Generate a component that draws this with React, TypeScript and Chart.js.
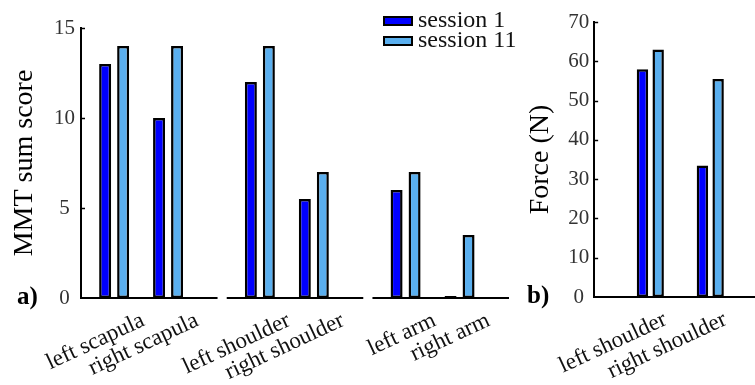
import React, { useEffect, useRef } from "react";
import { Chart, registerables } from "chart.js";

Chart.register(...registerables);

// ---------------- data ----------------
const SESSIONS = ["session 1", "session 11"];

const MMT_LABELS = ["left scapula", "right scapula", "left shoulder", "right shoulder", "left arm", "right arm"];
const MMT_GROUPS = [0, 0, 1, 1, 2, 2]; // scapula, shoulder, arm
const MMT_SESSION_1 = [13, 10, 12, 5.5, 6, 0];
const MMT_SESSION_11 = [14, 14, 14, 7, 7, 3.5];
const MMT_Y_TICKS = [0, 5, 10, 15];

const FORCE_LABELS = ["left shoulder", "right shoulder"];
const FORCE_SESSION_1 = [58, 33.5];
const FORCE_SESSION_11 = [63, 55.5];
const FORCE_Y_TICKS = [0, 10, 20, 30, 40, 50, 60, 70];

// ---------------- style / layout ----------------
const SERIF = "'Liberation Serif', 'Times New Roman', Times, serif";
const COLOR_S1 = "#0000FF";
const COLOR_S11 = "#5AAFEF";

const GROUP_STEP = 2.7; // distance between body-part groups (in category units)
const SEG_START = -0.614; // where each broken x-axis segment starts, relative to group
const SEG_LEN = 2.53; // length of each x-axis segment
const FORCE_PAD_LEFT = 0.937;
const FORCE_PAD_RIGHT = 0.746;

const nGroups = Math.max(...MMT_GROUPS) + 1;
const mmtPositions = MMT_LABELS.map(
  (_, i) => MMT_GROUPS[i] * GROUP_STEP + MMT_GROUPS.slice(0, i).filter((g) => g === MMT_GROUPS[i]).length
);
const forcePositions = FORCE_LABELS.map((_, i) => i);

const innerTicks = (values: number[]) => ({
  id: "innerTicks",
  afterDatasetsDraw(chart: any) {
    const { ctx, chartArea } = chart;
    const ys = chart.scales.y;
    ctx.save();
    ctx.strokeStyle = "#000";
    ctx.lineWidth = 1.5;
    values.forEach((v) => {
      if (v === 0) return;
      const py = Math.round(ys.getPixelForValue(v)) + 0.5;
      ctx.beginPath();
      ctx.moveTo(chartArea.left, py);
      ctx.lineTo(chartArea.left + 4, py);
      ctx.stroke();
    });
    ctx.restore();
  },
});

const panelLabel = (text: string, x: number) => ({
  id: "panelLabel",
  afterDraw(chart: any) {
    const { ctx } = chart;
    const y = chart.scales.y.getPixelForValue(0);
    ctx.save();
    ctx.font = `bold 25px ${SERIF}`;
    ctx.fillStyle = "#000";
    ctx.textAlign = "left";
    ctx.textBaseline = "middle";
    ctx.fillText(text, x, y);
    ctx.restore();
  },
});

const brokenAxis = {
  id: "brokenAxis",
  afterDatasetsDraw(chart: any) {
    const { ctx } = chart;
    const xs = chart.scales.x;
    const y0 = Math.round(chart.scales.y.getPixelForValue(0));
    ctx.save();
    ctx.strokeStyle = "#000";
    ctx.lineWidth = 2.2;
    for (let g = 0; g < nGroups; g++) {
      const a = xs.getPixelForValue(g * GROUP_STEP + SEG_START);
      const b = xs.getPixelForValue(g * GROUP_STEP + SEG_START + SEG_LEN);
      ctx.beginPath();
      ctx.moveTo(a, y0);
      ctx.lineTo(b, y0);
      ctx.stroke();
    }
    ctx.restore();
  },
};

const sessionLegend = {
  id: "sessionLegend",
  afterDraw(chart: any) {
    const { ctx } = chart;
    ctx.save();
    chart.data.datasets.forEach((ds: any, i: number) => {
      const cy = 21 + i * 20;
      ctx.fillStyle = ds.backgroundColor;
      ctx.fillRect(384, cy - 4, 28, 8);
      ctx.lineWidth = 2;
      ctx.strokeStyle = "#000";
      ctx.strokeRect(384, cy - 4, 28, 8);
      ctx.font = `24px ${SERIF}`;
      ctx.fillStyle = "#111";
      ctx.textAlign = "left";
      ctx.textBaseline = "alphabetic";
      ctx.fillText(ds.label, 418, cy + 6);
    });
    ctx.restore();
  },
};

const barStyle = (color: string) => ({
  backgroundColor: color,
  borderColor: "#000",
  borderWidth: 2.5,
  borderSkipped: false as const,
  minBarLength: 2,
});

function yScale(max: number, ticks: number[], title: string, width: number, tickPad: number, titlePad: number) {
  return {
    type: "linear" as const,
    min: 0,
    max,
    afterBuildTicks: (s: any) => {
      s.ticks = ticks.map((v) => ({ value: v }));
    },
    afterFit: (s: any) => {
      s.width = width;
    },
    grid: { display: false, drawTicks: false },
    border: { display: true, color: "#000", width: 2 },
    ticks: {
      font: { family: SERIF, size: 21 },
      color: "#333",
      padding: tickPad,
      crossAlign: "center" as const,
    },
    title: {
      display: true,
      text: title,
      color: "#000",
      font: { family: SERIF, size: 28 },
      padding: { top: titlePad, bottom: 0 },
    },
  };
}

function xScale(
  min: number,
  max: number,
  positions: number[],
  labels: string[],
  height: number,
  labelOffset: number,
  showBorder: boolean
) {
  return {
    type: "linear" as const,
    min,
    max,
    offset: false,
    afterBuildTicks: (s: any) => {
      s.ticks = positions.map((v) => ({ value: v }));
    },
    afterFit: (s: any) => {
      s.height = height;
    },
    grid: { display: false, drawTicks: false, offset: false },
    border: { display: showBorder, color: "#000", width: 2 },
    ticks: {
      autoSkip: false,
      minRotation: 25,
      maxRotation: 25,
      labelOffset,
      padding: 9,
      font: { family: SERIF, size: 23 },
      color: "#111",
      callback: (_v: any, i: number) => labels[i],
    },
  };
}

export default function App() {
  const refA = useRef<HTMLCanvasElement>(null);
  const refB = useRef<HTMLCanvasElement>(null);

  useEffect(() => {
    const chartA = new Chart(refA.current as HTMLCanvasElement, {
      type: "bar",
      data: {
        datasets: [
          {
            label: SESSIONS[0],
            data: MMT_SESSION_1.map((v, i) => ({ x: mmtPositions[i], y: v })),
            ...barStyle(COLOR_S1),
          },
          {
            label: SESSIONS[1],
            data: MMT_SESSION_11.map((v, i) => ({ x: mmtPositions[i], y: v })),
            ...barStyle(COLOR_S11),
          },
        ] as any,
      },
      options: {
        responsive: false,
        animation: false,
        events: [],
        categoryPercentage: 0.667,
        barPercentage: 0.667,
        layout: { padding: { left: 0, top: 28, right: 11, bottom: 0 } },
        plugins: { legend: { display: false }, tooltip: { enabled: false } },
        scales: {
          x: xScale(
            SEG_START,
            (nGroups - 1) * GROUP_STEP + SEG_START + SEG_LEN,
            mmtPositions,
            MMT_LABELS,
            87,
            29,
            false
          ),
          y: yScale(15, MMT_Y_TICKS, "MMT sum score", 81, 6, 8),
        },
      } as any,
      plugins: [brokenAxis, innerTicks(MMT_Y_TICKS), panelLabel("a)", 17), sessionLegend],
    });

    const chartB = new Chart(refB.current as HTMLCanvasElement, {
      type: "bar",
      data: {
        datasets: [
          {
            label: SESSIONS[0],
            data: FORCE_SESSION_1.map((v, i) => ({ x: forcePositions[i], y: v })),
            ...barStyle(COLOR_S1),
          },
          {
            label: SESSIONS[1],
            data: FORCE_SESSION_11.map((v, i) => ({ x: forcePositions[i], y: v })),
            ...barStyle(COLOR_S11),
          },
        ] as any,
      },
      options: {
        responsive: false,
        animation: false,
        events: [],
        categoryPercentage: 0.524,
        barPercentage: 0.727,
        layout: { padding: { left: 0, top: 22, right: 0, bottom: 0 } },
        plugins: { legend: { display: false }, tooltip: { enabled: false } },
        scales: {
          x: xScale(
            -FORCE_PAD_LEFT,
            forcePositions.length - 1 + FORCE_PAD_RIGHT,
            forcePositions,
            FORCE_LABELS,
            88,
            15,
            true
          ),
          y: yScale(70, FORCE_Y_TICKS, "Force (N)", 76, 5, 6),
        },
      } as any,
      plugins: [innerTicks(FORCE_Y_TICKS), panelLabel("b)", 17)],
    });

    return () => {
      chartA.destroy();
      chartB.destroy();
    };
  }, []);

  return (
    <div
      style={{
        position: "absolute",
        left: 0,
        top: 0,
        width: 755,
        height: 385,
        background: "#fff",
        overflow: "hidden",
      }}
    >
      <canvas
        ref={refA}
        width={520}
        height={385}
        style={{ position: "absolute", left: 0, top: 0, width: 520, height: 385 }}
      />
      <canvas
        ref={refB}
        width={245}
        height={385}
        style={{ position: "absolute", left: 510, top: 0, width: 245, height: 385 }}
      />
    </div>
  );
}
